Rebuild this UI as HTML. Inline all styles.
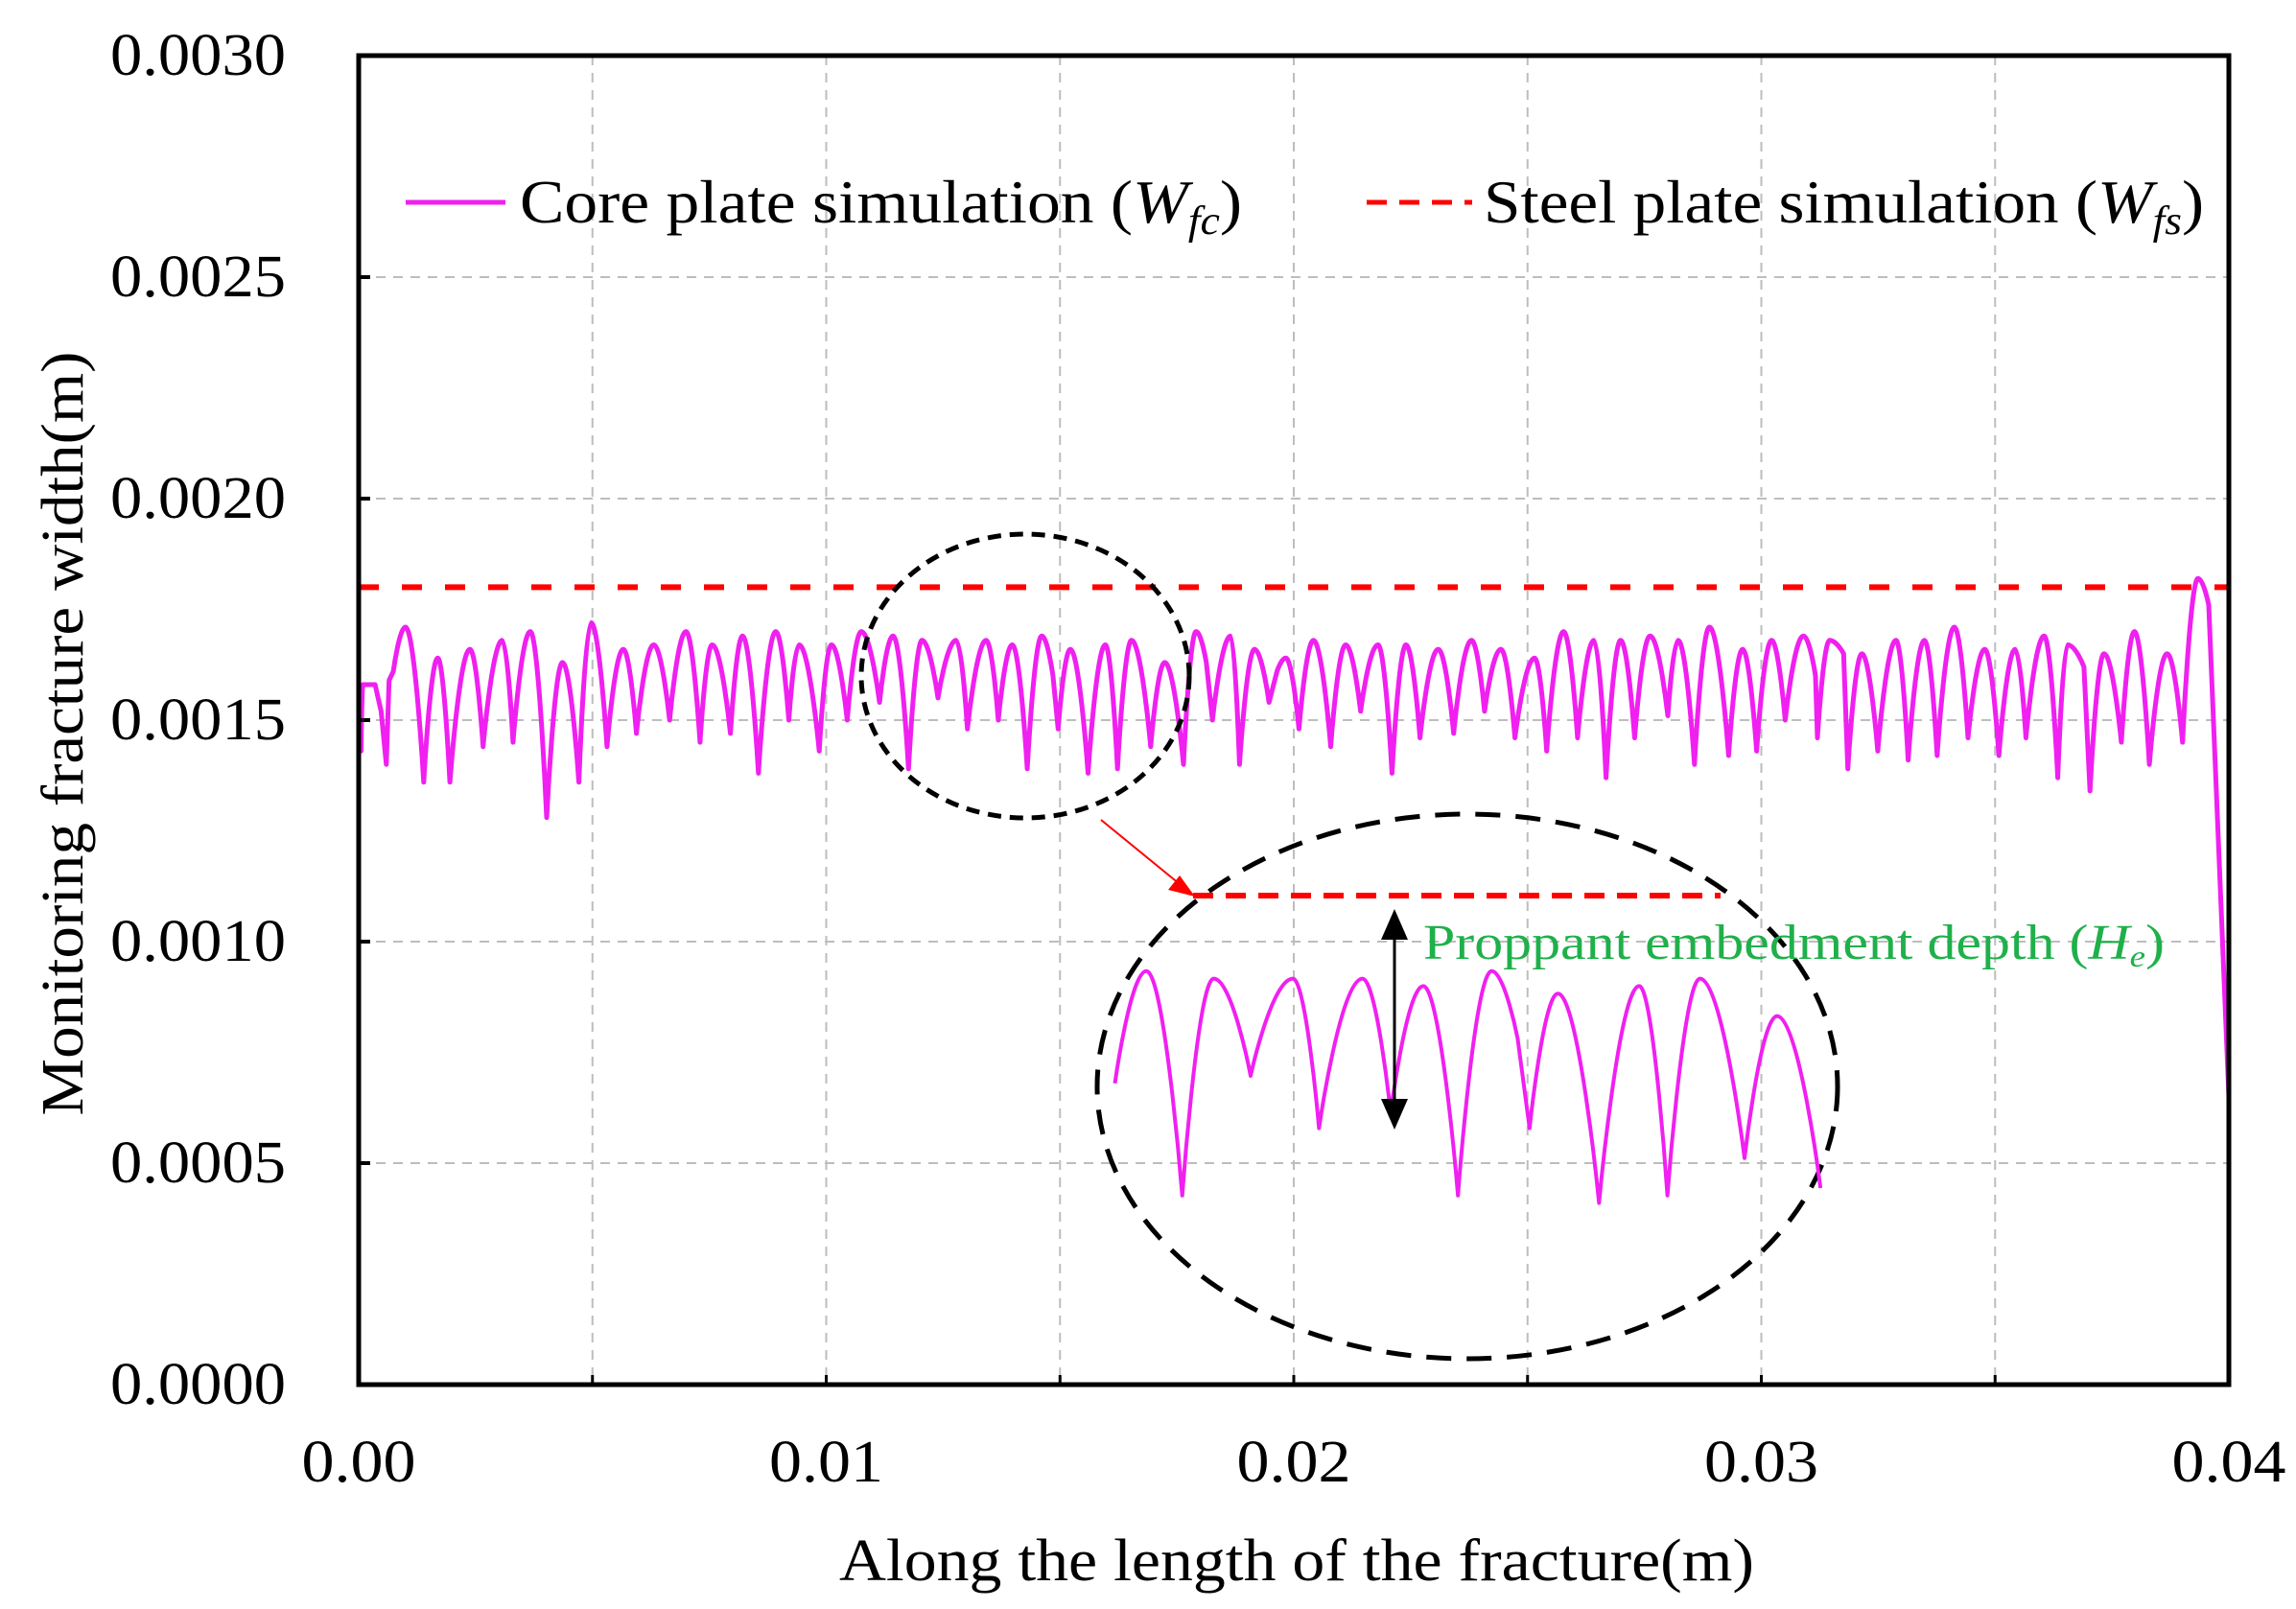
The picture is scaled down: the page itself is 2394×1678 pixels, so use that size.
<!DOCTYPE html>
<html><head><meta charset="utf-8"><style>
html,body{margin:0;padding:0;background:#fff}
svg{display:block}
text{font-family:"Liberation Serif",serif;fill:#000}
</style></head><body>
<svg id="chart" xmlns="http://www.w3.org/2000/svg" width="2394" height="1678" viewBox="0 0 2394 1678">
<rect x="0" y="0" width="2394" height="1678" fill="#fff"/>
<g id="grid"></g>
<g id="series"></g>
<g id="axes"></g>
<g id="annot"></g>
<g id="legend">
  <line x1="423" y1="211" x2="527" y2="211" stroke="#f020f0" stroke-width="5"/>
  <text x="542" y="232" font-size="64" textLength="753" lengthAdjust="spacingAndGlyphs">Core plate simulation (<tspan font-style="italic">W</tspan><tspan font-style="italic" font-size="42" dy="12">fc</tspan><tspan dy="-12">)</tspan></text>
  <line x1="1425" y1="211" x2="1535" y2="211" stroke="#ff0000" stroke-width="5" stroke-dasharray="21 13"/>
  <text x="1547" y="232" font-size="64" textLength="751" lengthAdjust="spacingAndGlyphs">Steel plate simulation (<tspan font-style="italic">W</tspan><tspan font-style="italic" font-size="42" dy="12">fs</tspan><tspan dy="-12">)</tspan></text>
</g>
<text x="1352" y="1648" font-size="62" text-anchor="middle" textLength="954" lengthAdjust="spacingAndGlyphs">Along the length of the fracture(m)</text>
<text transform="translate(86,765) rotate(-90)" font-size="62" text-anchor="middle" textLength="797" lengthAdjust="spacingAndGlyphs">Monitoring fracture width(m)</text>
</svg>
<script>
const xTicks=[0,0.01,0.02,0.03,0.04];
const xTickLabels=["0.00","0.01","0.02","0.03","0.04"];
const yTicks=[0,0.0005,0.001,0.0015,0.002,0.0025,0.003];
const yTickLabels=["0.0000","0.0005","0.0010","0.0015","0.0020","0.0025","0.0030"];
const steelWidth=0.0018;
const coreX=[0,0.00005,0.00009,0.00035,0.00048,0.00059,0.00065,0.00074,0.00100,0.00139,0.00169,0.00195,0.00238,0.00266,0.00307,0.00330,0.00367,0.00402,0.00436,0.00471,0.00497,0.00531,0.00566,0.00594,0.00631,0.00665,0.00700,0.00730,0.00756,0.00795,0.00821,0.00855,0.00892,0.00920,0.00942,0.00985,0.01011,0.01045,0.01075,0.01114,0.01143,0.01176,0.01205,0.01239,0.01278,0.01302,
0.01342,0.01368,0.01398,0.01430,0.01461,0.01485,0.01496,0.01522,0.01560,0.01597,0.01623,0.01653,0.01694,0.01724,0.01764,0.01791,0.01813,0.01826,0.01865,0.01884,0.01916,0.01947,0.01964,0.01983,0.02011,0.02042,0.02079,0.02111,0.02143,0.02180,0.02210,0.02240,0.02270,0.02309,0.02342,0.02380,0.02408,0.02443,0.02473,0.02515,0.02541,0.02577,0.02607,0.02642,
0.02668,0.02699,0.02729,0.02762,0.02800,0.02822,0.02857,0.02889,0.02930,0.02960,0.02990,0.03022,0.03051,0.03090,0.03116,0.03120,0.03146,0.03176,0.03185,0.03215,0.03249,0.03288,0.03314,0.03349,0.03376,0.03413,0.03442,0.03478,0.03508,0.03543,0.03566,0.03605,0.03634,0.03655,0.03690,0.03703,0.03733,0.03770,0.03798,0.03830,0.03868,0.03901,0.03934,0.03957,0.04];
const coreW=[0.00143,0.00143,0.00158,0.00158,0.00152,0.00140,0.00159,0.00161,0.00171,0.00136,0.00164,0.00136,0.00166,0.00144,0.00168,0.00145,0.00170,0.00128,0.00163,0.00136,0.00172,0.00144,0.00166,0.00147,0.00167,0.00150,0.00170,0.00145,0.00167,0.00147,0.00169,0.00138,0.00170,0.00150,0.00167,0.00143,0.00167,0.00150,0.00170,0.00154,0.00169,0.00139,0.00168,0.00155,0.00168,0.00148,
0.00168,0.00150,0.00167,0.00139,0.00169,0.00160,0.00148,0.00166,0.00138,0.00167,0.00139,0.00168,0.00144,0.00163,0.00140,0.00170,0.00163,0.00150,0.00169,0.00140,0.00166,0.00154,0.00161,0.00164,0.00148,0.00168,0.00144,0.00167,0.00152,0.00167,0.00138,0.00167,0.00146,0.00166,0.00147,0.00168,0.00152,0.00166,0.00146,0.00164,0.00143,0.00170,0.00146,0.00168,
0.00137,0.00168,0.00146,0.00169,0.00151,0.00168,0.00140,0.00171,0.00142,0.00166,0.00143,0.00168,0.00150,0.00169,0.00160,0.00146,0.00168,0.00165,0.00139,0.00165,0.00143,0.00168,0.00141,0.00168,0.00142,0.00171,0.00146,0.00166,0.00142,0.00166,0.00146,0.00169,0.00137,0.00167,0.00162,0.00134,0.00165,0.00145,0.00170,0.00140,0.00165,0.00145,0.00182,0.00176,0.00065];
const insetRange=[0.0111,0.0177];

const NS="http://www.w3.org/2000/svg";
const L=374,R=2324,T=58,B=1444;
const sx=v=>L+(v-0)/(0.04-0)*(R-L);
const sy=v=>B-(v-0)/(0.003-0)*(B-T);
function mk(tag,attrs,parent){const e=document.createElementNS(NS,tag);for(const k in attrs)e.setAttribute(k,attrs[k]);parent.appendChild(e);return e;}
// smooth path: rounded peaks, sharp troughs
function smoothPath(pts){
  const n=pts.length;
  const isPeak=i=>i>0&&i<n-1&&pts[i].y<pts[i-1].y&&pts[i].y<=pts[i+1].y;
  let d='M'+pts[0].x.toFixed(1)+' '+pts[0].y.toFixed(1);
  for(let i=1;i<n;i++){
    const p0=pts[i-1],p1=pts[i],dx=p1.x-p0.x;
    const c1=isPeak(i-1)?[p0.x+dx*0.5,p0.y]:[p0.x,p0.y];
    const c2=isPeak(i)?[p1.x-dx*0.5,p1.y]:[p1.x,p1.y];
    d+='C'+c1[0].toFixed(1)+' '+c1[1].toFixed(1)+' '+c2[0].toFixed(1)+' '+c2[1].toFixed(1)+' '+p1.x.toFixed(1)+' '+p1.y.toFixed(1);
  }
  return d;
}
const grid=document.getElementById('grid'),series=document.getElementById('series'),axes=document.getElementById('axes'),annot=document.getElementById('annot');

xTicks.concat([0.005,0.015,0.025,0.035]).forEach(v=>{
  if(v<=0||v>=0.04)return;
  const g=mk('line',{x1:sx(v),x2:sx(v),y1:T,y2:B,stroke:'#bdbdbd','stroke-width':2,'stroke-dasharray':'10 8'},grid);
  
  
});
yTicks.forEach(v=>{
  if(v<=0||v>=0.003)return;
  const g=mk('line',{x1:L,x2:R,y1:sy(v),y2:sy(v),stroke:'#bdbdbd','stroke-width':2,'stroke-dasharray':'10 8'},grid);
  
  
});

const st=mk('line',{x1:L,x2:R,y1:sy(steelWidth),y2:sy(steelWidth),stroke:'#ff0000','stroke-width':6,'stroke-dasharray':'21 24'},series);



const cpts=coreX.map((x,i)=>({x:sx(x),y:sy(coreW[i])}));
const cp=mk('path',{d:smoothPath(cpts),fill:'none',stroke:'#f020f0','stroke-width':5,'stroke-linejoin':'round'},series);



const fr=mk('rect',{x:L,y:T,width:R-L,height:B-T,fill:'none',stroke:'#000','stroke-width':5},axes);


xTicks.forEach((v,i)=>{
  const t=mk('line',{x1:sx(v),x2:sx(v),y1:B,y2:B-10,stroke:'#000','stroke-width':3},axes);
  
  
  const lb=mk('text',{x:sx(v),y:1545,'font-size':62,'text-anchor':'middle',textLength:119,lengthAdjust:'spacingAndGlyphs'},axes);
  lb.textContent=xTickLabels[i];
  
  
});
[0.005,0.015,0.025,0.035].forEach(v=>{
  const t=mk('line',{x1:sx(v),x2:sx(v),y1:B,y2:B-10,stroke:'#000','stroke-width':3},axes);
  
  
});
yTicks.forEach((v,i)=>{
  const t=mk('line',{x1:L,x2:L+12,y1:sy(v),y2:sy(v),stroke:'#000','stroke-width':4},axes);
  
  
  const lb=mk('text',{x:298,y:sy(v)+20,'font-size':62,'text-anchor':'end',textLength:183,lengthAdjust:'spacingAndGlyphs'},axes);
  lb.textContent=yTickLabels[i];
  
  
});

const e1=mk('ellipse',{cx:1069,cy:705,rx:171,ry:148,fill:'none',stroke:'#000','stroke-width':5,'stroke-dasharray':'14 9'},annot);


const e2=mk('ellipse',{cx:1530,cy:1133,rx:386,ry:284,fill:'none',stroke:'#000','stroke-width':5,'stroke-dasharray':'26 16'},annot);


const ar=mk('line',{x1:1148,y1:855,x2:1230,y2:922,stroke:'#ff0000','stroke-width':2},annot);


const ah=mk('polygon',{points:'1246,935 1218,928 1230,913',fill:'#ff0000'},annot);


const il=mk('line',{x1:1244,x2:1794,y1:934,y2:934,stroke:'#ff0000','stroke-width':6,'stroke-dasharray':'21 13'},annot);


const ix=v=>1158+(v-insetRange[0])/(insetRange[1]-insetRange[0])*(1905-1158);
const iy=v=>1005+(0.0017-v)*780000;
const ipts=[];
coreX.forEach((x,i)=>{if(x<insetRange[0]||x>insetRange[1])return;ipts.push({x:ix(x),y:iy(coreW[i])});});
const ic=mk('path',{d:smoothPath(ipts),fill:'none',stroke:'#f020f0','stroke-width':4,'stroke-linejoin':'round'},annot);


const da=mk('line',{x1:1454,x2:1454,y1:975,y2:1150,stroke:'#000','stroke-width':3},annot);


const h1=mk('polygon',{points:'1454,948 1440,980 1468,980',fill:'#000'},annot);


const h2=mk('polygon',{points:'1454,1178 1440,1146 1468,1146',fill:'#000'},annot);


const gt=mk('text',{x:1484,y:1000,'font-size':52,textLength:773,lengthAdjust:'spacingAndGlyphs'},annot);
gt.style.fill='#1fb04a';
gt.innerHTML='Proppant embedment depth (<tspan font-style="italic" style="fill:#1fb04a">H</tspan><tspan font-style="italic" font-size="32" dy="8" style="fill:#1fb04a">e</tspan><tspan dy="-8" style="fill:#1fb04a">)</tspan>';


</script>
</body></html>
